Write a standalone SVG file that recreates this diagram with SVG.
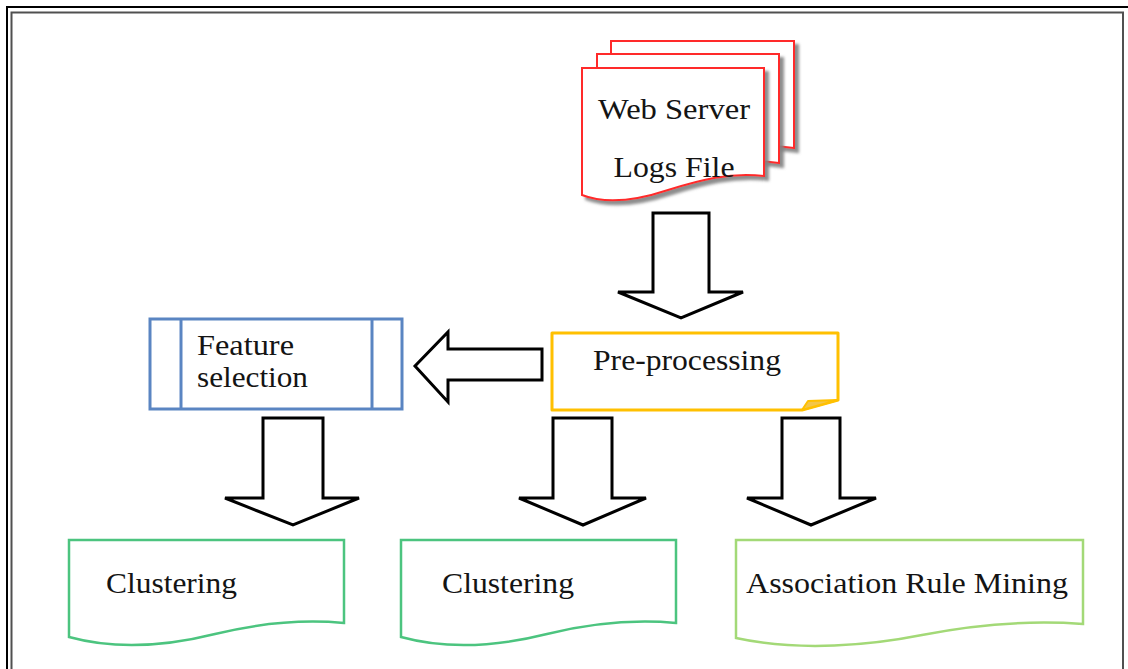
<svg xmlns="http://www.w3.org/2000/svg" width="1128" height="669" viewBox="0 0 1128 669">
  <defs>
    <filter id="pageShadow" x="-10%" y="-10%" width="130%" height="130%">
      <feDropShadow dx="4" dy="4" stdDeviation="1.5" flood-color="#808080" flood-opacity="0.9"/>
    </filter>
  </defs>
  <style>
    .lbl { font-family: "Liberation Serif", "Times New Roman", serif; font-size: 30px; fill: #141414; }
    .arrow { fill: #ffffff; stroke: #000000; stroke-width: 3; stroke-linejoin: miter; }
    .page { fill: #ffffff; stroke: #ff2a2a; stroke-width: 2; }
    .doc-green { fill: #ffffff; stroke: #4cc47f; stroke-width: 2.5; }
    .doc-lime { fill: #ffffff; stroke: #a3d977; stroke-width: 2.5; }
  </style>

  <!-- page frame -->
  <rect x="0" y="0" width="1128" height="669" fill="#ffffff"/>
  <rect x="7" y="7" width="1130" height="680" fill="none" stroke="#000000" stroke-width="2"/>
  <rect x="11.5" y="12.5" width="1111.5" height="680" fill="none" stroke="#505050" stroke-width="2"/>

  <!-- source: stack of log files -->
  <g id="web-server-logs">
    <path class="page" filter="url(#pageShadow)" d="M611,41 H794 V148 C760,143 730,150 700,160 C670,170 640,172 611,165 Z"/>
    <path class="page" filter="url(#pageShadow)" d="M597,54 H779 V163 C745,158 715,165 685,175 C655,185 625,187 597,180 Z"/>
    <path class="page" filter="url(#pageShadow)" d="M582,68 H764 V176 C730,172 700,180 668,190 C635,201 605,204 582,195 Z"/>
    <text class="lbl" x="674" y="119" text-anchor="middle" textLength="152" lengthAdjust="spacingAndGlyphs">Web Server</text>
    <text class="lbl" x="674" y="177" text-anchor="middle" textLength="121" lengthAdjust="spacingAndGlyphs">Logs File</text>
  </g>

  <!-- pre-processing card with folded corner -->
  <g id="pre-processing">
    <path d="M552,333 H838 V400 L802,410 H552 Z" fill="#ffffff" stroke="#ffc000" stroke-width="3" stroke-linejoin="round"/>
    <path d="M802,410 L808,401 L838,400 Z" fill="#f3c64a" stroke="#ffc000" stroke-width="2" stroke-linejoin="round"/>
    <text class="lbl" x="593" y="370" textLength="188" lengthAdjust="spacingAndGlyphs">Pre-processing</text>
  </g>

  <!-- feature selection: predefined process -->
  <g id="feature-selection">
    <rect x="150" y="319" width="252" height="90" fill="#ffffff" stroke="#5a85c2" stroke-width="3"/>
    <line x1="181" y1="319" x2="181" y2="409" stroke="#5a85c2" stroke-width="3"/>
    <line x1="372" y1="319" x2="372" y2="409" stroke="#5a85c2" stroke-width="3"/>
    <text class="lbl" x="197" y="355" textLength="97" lengthAdjust="spacingAndGlyphs">Feature</text>
    <text class="lbl" x="197" y="387" textLength="111" lengthAdjust="spacingAndGlyphs">selection</text>
  </g>

  <!-- outputs -->
  <g id="clustering-1">
    <path class="doc-green" d="M69,540 H344 V623 C300,619 260,623 215,634 C175,644 120,651 69,637 Z"/>
    <text class="lbl" x="106" y="593" textLength="131" lengthAdjust="spacingAndGlyphs">Clustering</text>
  </g>

  <g id="clustering-2">
    <path class="doc-green" d="M401,540 H676 V623 C632,619 592,623 547,634 C507,644 452,651 401,637 Z"/>
    <text class="lbl" x="442" y="593" textLength="132" lengthAdjust="spacingAndGlyphs">Clustering</text>
  </g>

  <g id="association-rule-mining">
    <path class="doc-lime" d="M736,540 H1083 V624 C1028,620 978,624 922,635 C872,645 800,652 736,638 Z"/>
    <text class="lbl" x="746" y="593" textLength="322" lengthAdjust="spacingAndGlyphs">Association Rule Mining</text>
  </g>

  <!-- block arrows -->
  <g id="connectors">
    <path class="arrow" d="M653,213 H709 V292 H743 L681,318 L618,292 H653 Z"/>
    <path class="arrow" d="M542,349 V380 H448 V402 L415,366 L448,332 V349 Z"/>
    <path class="arrow" d="M263,418 H323 V498 H359 L293,525 L225,498 H263 Z"/>
    <path class="arrow" d="M553,418 H612 V498 H646 L583,525 L519,498 H553 Z"/>
    <path class="arrow" d="M782,418 H840 V498 H876 L811,525 L747,498 H782 Z"/>
  </g>
</svg>
